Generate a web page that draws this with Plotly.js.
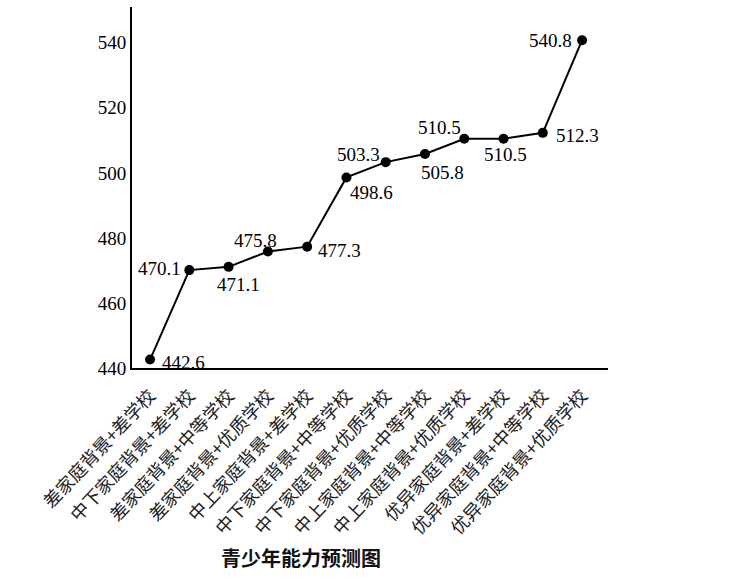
<!DOCTYPE html>
<html>
<head>
<meta charset="utf-8">
<script src="https://cdn.plot.ly/plotly-3.0.1.min.js"></script>
<style>
  html, body { margin: 0; padding: 0; background: #fff; }
  #chart { width: 750px; height: 587px; }
</style>
</head>
<body>
<div id="chart"></div>
<script>
// Categorie (combinazione famiglia + scuola) e punteggi previsti
const categories = [
    '差家庭背景+差学校',
    '中下家庭背景+差学校',
    '差家庭背景+中等学校',
    '差家庭背景+优质学校',
    '中上家庭背景+差学校',
    '中下家庭背景+中等学校',
    '中下家庭背景+优质学校',
    '中上家庭背景+中等学校',
    '中上家庭背景+优质学校',
    '优异家庭背景+差学校',
    '优异家庭背景+中等学校',
    '优异家庭背景+优质学校',
];
const scores = [442.6, 470.1, 471.1, 475.8, 477.3, 498.6, 503.3, 505.8, 510.5, 510.5, 512.3, 540.8];
const yTicks = [440, 460, 480, 500, 520, 540];

// spostamento (px) di ogni etichetta rispetto al suo punto
const labelShift = [
    [33, -3], [-30, 2], [10, -18], [-12, 11], [32, -4], [25, -15],
    [-27, 8], [18, -18], [-25, 11], [2, -16], [35, -3], [-32, 0],
];

const NUM_FONT = 'Liberation Serif, Times New Roman, serif';
const CJK_FONT = 'Noto Sans CJK SC, sans-serif';

const data = [{
    type: 'scatter',
    mode: 'lines+markers',
    x: categories.map((_, i) => i),
    y: scores,
    line: { color: '#000', width: 2 },
    marker: { color: '#000', size: 10 },
    hoverinfo: 'skip',
}];

const annotations = scores.map((v, i) => ({
    x: i, y: v, xref: 'x', yref: 'y',
    text: v.toFixed(1), showarrow: false,
    xshift: labelShift[i][0], yshift: labelShift[i][1],
    font: { family: NUM_FONT, size: 19, color: '#000' },
}));
annotations.push({
    xref: 'paper', yref: 'paper', x: 0.355, y: -0.524,
    xanchor: 'center', yanchor: 'middle',
    text: '<b>青少年能力预测图</b>', showarrow: false,
    font: { family: CJK_FONT, size: 20, color: '#111' },
});

const layout = {
    width: 750, height: 587,
    margin: { l: 132, r: 142, t: 7, b: 219 },
    paper_bgcolor: '#fff', plot_bgcolor: '#fff',
    showlegend: false,
    xaxis: {
        range: [-0.46, 11.66],
        tickvals: categories.map((_, i) => i),
        ticktext: categories,
        tickangle: -47,
        tickfont: { family: CJK_FONT, size: 18, color: '#222' },
        ticklabelstandoff: 8,
        showgrid: false, zeroline: false,
        showline: true, linecolor: '#000', linewidth: 2,
        ticks: '',
    },
    yaxis: {
        range: [440, 551],
        tickvals: yTicks,
        tickfont: { family: NUM_FONT, size: 19, color: '#000' },
        showgrid: false, zeroline: false,
        showline: true, linecolor: '#000', linewidth: 2,
        ticks: '',
    },
    annotations: annotations,
};

Plotly.newPlot('chart', data, layout, { displayModeBar: false, staticPlot: true });
</script>
</body>
</html>
